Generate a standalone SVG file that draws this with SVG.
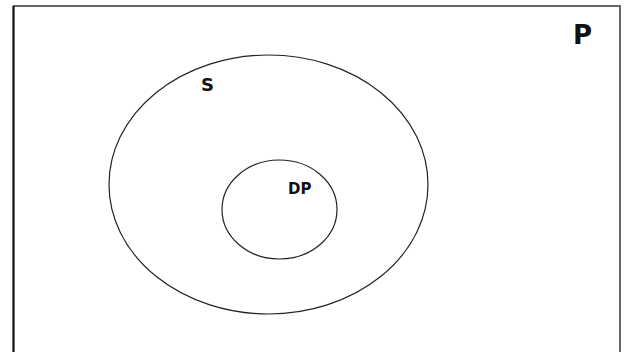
<svg xmlns="http://www.w3.org/2000/svg" width="624" height="352" viewBox="0 0 624 352">
<style>
.set{fill:none;stroke:#222;stroke-width:1.2}
.lbl{font-family:"DejaVu Sans","Liberation Sans",sans-serif;font-weight:bold;fill:#111}
</style>
<rect width="624" height="352" fill="#fff"/>
<g id="P">
<path d="M13.5,360 L13.5,6 L620,6 L620,360" fill="none" stroke="#333" stroke-width="1.5"/>
<line x1="13.5" y1="6" x2="13.5" y2="352" stroke="#111" stroke-width="2"/>
<line x1="620" y1="6" x2="620" y2="352" stroke="#666" stroke-width="1.5"/>
<text class="lbl" x="573" y="44" font-size="26">P</text>
</g>
<g id="S">
<ellipse class="set" cx="268.5" cy="184.5" rx="159.5" ry="129.5"/>
<text class="lbl" x="201" y="91" font-size="18">S</text>
</g>
<g id="DP">
<ellipse class="set" cx="279.5" cy="209.5" rx="57.5" ry="49.5"/>
<text class="lbl" x="288" y="194" font-size="15">DP</text>
</g>
<g id="connectors"></g>
</svg>
